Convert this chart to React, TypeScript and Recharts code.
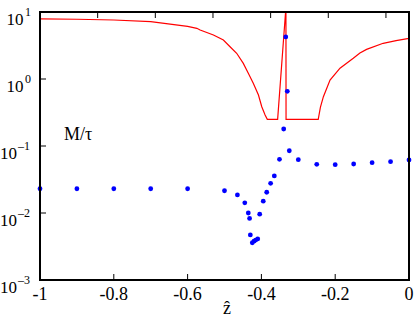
import React from "react";
import { ComposedChart, Line, XAxis, YAxis } from "recharts";

// Red curve (x = z-hat, y = M/tau)
const curveX = [
  -1, -0.9, -0.8, -0.7, -0.6, -0.575, -0.566, -0.53, -0.503, -0.485, -0.467,
  -0.449, -0.4355, -0.422, -0.408, -0.399, -0.39, -0.384, -0.356, -0.3345,
  -0.3335, -0.3332, -0.246, -0.24, -0.232, -0.214, -0.187, -0.151, -0.133,
  -0.115, -0.07, -0.035, 0,
];
const curveY = [
  7.87, 7.8, 7.6, 7.17, 6.1, 5.71, 5.38, 4.54, 3.82, 3.03, 2.42,
  1.71, 1.22, 0.863, 0.577, 0.386, 0.29, 0.25, 0.25, 10,
  10, 0.25, 0.25, 0.38, 0.545, 0.966, 1.45, 2.04, 2.44,
  2.77, 3.41, 3.75, 4.05,
];

// Blue dots
const dotX = [
  -1, -0.9, -0.8, -0.7, -0.6, -0.5, -0.465, -0.445, -0.4355, -0.432, -0.43,
  -0.4247, -0.42, -0.4155, -0.41, -0.4046, -0.395, -0.3856, -0.375, -0.365,
  -0.351, -0.3396, -0.334, -0.3298, -0.3244, -0.3, -0.25, -0.2, -0.15, -0.1,
  -0.05, 0,
];
const dotY = [
  0.023, 0.023, 0.023, 0.023, 0.023, 0.0215, 0.0186, 0.0142, 0.01, 0.0083, 0.0047,
  0.0036, 0.0038, 0.00395, 0.0041, 0.0096, 0.015, 0.0204, 0.0277, 0.0357,
  0.0633, 0.1795, 4.24, 0.655, 0.085, 0.0625, 0.0533, 0.0526, 0.0539, 0.0564,
  0.0583, 0.0618,
];

const xTicks = [-1, -0.8, -0.6, -0.4, -0.2, 0];
const xTickLabels = ["-1", "-0.8", "-0.6", "-0.4", "-0.2", "0"];
const yTicks = [0.001, 0.01, 0.1, 1, 10];
const yTickExponents = ["-3", "-2", "-1", "0", "1"];
const yLabel = "M/τ";
const xLabel = "ẑ";

// One shared table for the chart (rows sorted by x)
const rows: { x: number; curve: number | null; dot: number | null }[] = [
  ...curveX.map((x, i) => ({ x, curve: curveY[i], dot: null })),
  ...dotX.map((x, i) => ({ x, curve: null, dot: dotY[i] })),
].sort((a, b) => a.x - b.x);

const FONT = "'Liberation Serif', 'Times New Roman', serif";

const XTick = (props: any) => {
  const { x, payload } = props;
  const idx = xTicks.findIndex((t) => Math.abs(t - payload.value) < 1e-6);
  return (
    <text x={x} y={300} textAnchor="middle" fontSize={18} fontFamily={FONT} fill="#000" stroke="none">
      {idx >= 0 ? xTickLabels[idx] : ""}
    </text>
  );
};

const YTick = (props: any) => {
  const { y, payload } = props;
  const idx = yTicks.findIndex((t) => Math.abs(t - payload.value) / t < 1e-6);
  const exp = idx >= 0 ? yTickExponents[idx] : "";
  const neg = exp.startsWith("-");
  return (
    <text x={neg ? 0 : 6.5} y={y + 12.7} textAnchor="start" fontFamily={FONT} fill="#000" stroke="none" fontSize={17}>
      <tspan>10</tspan>
      <tspan dx={neg ? 1 : 1.5} dy={-9} fontSize={12}>{neg ? "\u2013" + exp.slice(1) : exp}</tspan>
    </text>
  );
};

const Empty = () => <g />;

const BlueDot = (p: any) =>
  p.cx == null || p.cy == null || p.value == null || (p.payload && p.payload.dot == null) ? (
    <g key={p.key} />
  ) : (
    <circle key={p.key} cx={p.cx} cy={p.cy} r={2.4} fill="#0000ff" stroke="none" />
  );

export default function App() {
  return (
    <div style={{ position: "absolute", left: 0, top: 0, width: 415, height: 318 }}>
      <ComposedChart
        width={415}
        height={318}
        data={rows}
        margin={{ top: 11, right: 5, bottom: 0, left: 0 }}
      >
        <XAxis
          dataKey="x"
          type="number"
          domain={[-1, 0]}
          tickCount={xTicks.length}
          height={38}
          tickSize={-6}
          stroke="#000"
          tick={<XTick />}
        />
        <XAxis
          xAxisId="top"
          orientation="top"
          type="number"
          domain={[-1, 0]}
          tickCount={xTicks.length}
          height={1}
          tickSize={-6}
          stroke="#000"
          tick={<Empty />}
        />
        <YAxis
          type="number"
          scale="log"
          domain={[0.001, 10]}
          ticks={yTicks}
          interval={0}
          width={40}
          tickSize={-6}
          stroke="#000"
          tick={<YTick />}
        />
        <YAxis
          yAxisId="right"
          orientation="right"
          type="number"
          scale="log"
          domain={[0.001, 10]}
          ticks={yTicks}
          interval={0}
          width={1}
          tickSize={-6}
          stroke="#000"
          tick={<Empty />}
        />
        <Line
          dataKey="curve"
          stroke="#ff0000"
          strokeWidth={1.2}
          dot={false}
          connectNulls
          isAnimationActive={false}
        />
        <Line
          dataKey="dot"
          stroke="none"
          dot={<BlueDot />}
          isAnimationActive={false}
        />
      </ComposedChart>
      <svg
        width={415}
        height={318}
        style={{ position: "absolute", left: 0, top: 0, pointerEvents: "none" }}
      >
        <rect x={40} y={12} width={369} height={268} fill="none" stroke="#000" strokeWidth={2} />
        <text x={64} y={140} fontSize={18} fontFamily={FONT} fill="#000">
          {yLabel}
        </text>
        <text x={227} y={314} textAnchor="middle" fontSize={18} fontFamily={FONT} fill="#000">
          {xLabel}
        </text>
      </svg>
    </div>
  );
}
